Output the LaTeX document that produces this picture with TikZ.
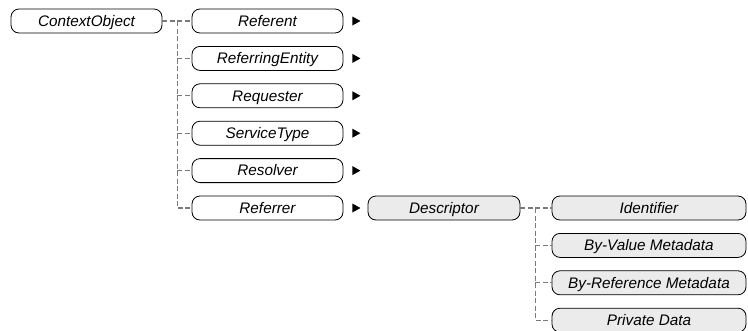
\documentclass[tikz,border=0pt]{standalone}
\usepackage{fontspec}
\setmainfont{Liberation Sans}
\usetikzlibrary{calc}
\definecolor{boxgray}{HTML}{EBEBEB}
\definecolor{linegray}{HTML}{7A7A7A}
\begin{document}
\begin{tikzpicture}[x=1pt,y=-1pt,
  elem/.style={draw=black, line width=0.8pt, rounded corners=8pt, minimum height=24pt,
    inner sep=0pt, font=\fontsize{15.3}{18}\selectfont\itshape, text height=10.7pt, text depth=0pt, anchor=center},
  wbox/.style={elem, minimum width=151pt, fill=white},
  dbox/.style={elem, minimum width=152pt, fill=boxgray},
  gbox/.style={elem, minimum width=194pt, fill=boxgray},
  conn/.style={draw=linegray, line width=1.1pt, dash pattern=on 5pt off 2.5pt},
  mark tri/.style={fill=black}
]
\useasboundingbox (0,0) rectangle (748,330);

\node[wbox] (co) at (86.5,21) {ContextObject};
\node[wbox] (r1) at (267.5,21) {Referent};
\node[wbox] (r2) at (267.5,58.4) {ReferringEntity};
\node[wbox] (r3) at (267.5,95.8) {Requester};
\node[wbox] (r4) at (267.5,133.2) {ServiceType};
\node[wbox] (r5) at (267.5,170.6) {Resolver};
\node[wbox] (r6) at (267.5,208) {Referrer};

\node[dbox] (de) at (444,208) {Descriptor};
\node[gbox] (d1) at (649,208) {Identifier};
\node[gbox] (d2) at (649,245.4) {By-Value Metadata};
\node[gbox] (d3) at (649,282.8) {By-Reference Metadata};
\node[gbox] (d4) at (649,320.2) {Private Data};

% expand markers
\foreach \n in {r1,r2,r3,r4,r5,r6}{
  \fill[mark tri] ($(\n.east)+(9,-4.5)$) -- ++(8,4.5) -- ++(-8,4.5) -- cycle;
}

% connectors ContextObject
\draw[conn] (co.east) -- ++(15,0) coordinate (j1) -- (r1.west);
\draw[conn] (j1) -- (j1 |- r6.west) -- (r6.west);
\foreach \n in {r2,r3,r4,r5}{
  \draw[conn] (j1 |- \n.west) -- (\n.west);
}

% connectors Descriptor
\draw[conn] (de.east) -- ++(15,0) coordinate (j2) -- (d1.west);
\draw[conn] (j2) -- (j2 |- d4.west) -- (d4.west);
\foreach \n in {d2,d3}{
  \draw[conn] (j2 |- \n.west) -- (\n.west);
}
\end{tikzpicture}
\end{document}
